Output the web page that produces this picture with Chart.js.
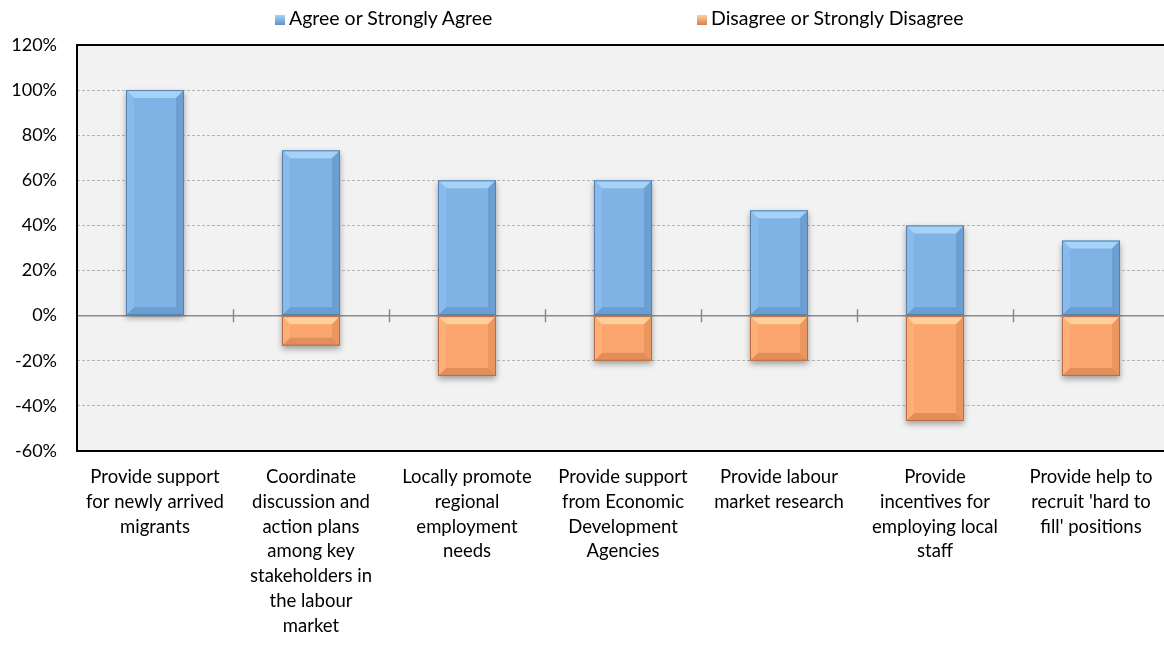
<!DOCTYPE html>
<html>
<head>
<meta charset="utf-8">
<script src="https://cdn.jsdelivr.net/npm/chart.js@4"></script>
<style>
  html, body { margin: 0; padding: 0; background: #fff; overflow: hidden; }
  #wrap { position: relative; width: 1170px; height: 645px; }
  .leg { position: absolute; top: 6px; font: 19.5px Lato, sans-serif; color: #000; white-space: nowrap; }
  .sw { display: inline-block; width: 10px; height: 10px; margin-right: 4px; vertical-align: 0px; }
</style>
</head>
<body>
<div id="wrap">
  <canvas id="chart" width="1170" height="645"></canvas>
  <div class="leg" style="left:275px"><span class="sw" style="background:linear-gradient(#a9d3f7,#5f93c9)"></span>Agree or Strongly Agree</div>
  <div class="leg" style="left:697px"><span class="sw" style="background:linear-gradient(#fdd09c,#d9804b)"></span>Disagree or Strongly Disagree</div>
</div>
<script>
const categories = [
    ["Provide support", "for newly arrived", "migrants"],
    ["Coordinate", "discussion and", "action plans", "among key", "stakeholders in", "the labour", "market"],
    ["Locally promote", "regional", "employment", "needs"],
    ["Provide support", "from Economic", "Development", "Agencies"],
    ["Provide labour", "market research"],
    ["Provide", "incentives for", "employing local", "staff"],
    ["Provide help to", "recruit 'hard to", "fill' positions"]
];
const agree = [100, 73.3, 60, 60, 46.7, 40, 33.3];
const disagree = [0, -13.3, -26.7, -20, -20, -46.7, -26.7];
const yMin = -60, yMax = 120, yStep = 20;

const BLUE = "#7fb3e6", ORANGE = "#fca56e";
const bevelColors = {
    blue: { top: "#a6d2f7", bottom: "#6a9dd2", left: "#88bbec", right: "#6e9fd3", line: "#557fae" },
    orange: { top: "#fecf9a", bottom: "#e18e5a", left: "#fdaf79", right: "#ea965f", line: "#b86c3f" }
};

// plot background, border and the crossing ticks on the zero line
const frame = {
    id: "frame",
    beforeDraw(chart) {
        const { ctx, chartArea: a } = chart;
        ctx.save();
        ctx.fillStyle = "#f2f2f2";
        ctx.fillRect(a.left, a.top, a.right - a.left, a.bottom - a.top);
        ctx.restore();
    },
    beforeDatasetsDraw(chart) {
        const { ctx, chartArea: a, scales } = chart;
        const y0 = scales.y.getPixelForValue(0);
        ctx.save();
        ctx.strokeStyle = "#8c8c8c";
        ctx.lineWidth = 1.5;
        ctx.beginPath();
        ctx.moveTo(a.left, y0); ctx.lineTo(a.right, y0);
        for (let i = 1; i < categories.length; i++) {
            const x = Math.round((scales.x.getPixelForValue(i - 1) + scales.x.getPixelForValue(i)) / 2) + 0.5;
            ctx.moveTo(x, y0 - 6.5); ctx.lineTo(x, y0 + 6.5);
        }
        ctx.stroke();
        ctx.restore();
        // soft shadow for the bars
        ctx.save();
        ctx.shadowColor = "rgba(0,0,0,0.35)";
        ctx.shadowBlur = 6;
        ctx.shadowOffsetY = 3;
    },
    afterDatasetsDraw(chart) {
        const { ctx, chartArea: a } = chart;
        ctx.restore();
        chart.data.datasets.forEach((ds, di) => {
            const c = di === 0 ? bevelColors.blue : bevelColors.orange;
            chart.getDatasetMeta(di).data.forEach(bar => {
                const l = bar.x - bar.width / 2, r = bar.x + bar.width / 2;
                const t = Math.min(bar.y, bar.base), b = Math.max(bar.y, bar.base);
                if (b - t < 1) return;
                const d = Math.min(8, (b - t) / 2);
                const poly = (pts, col) => {
                    ctx.beginPath();
                    ctx.moveTo(pts[0][0], pts[0][1]);
                    pts.slice(1).forEach(p => ctx.lineTo(p[0], p[1]));
                    ctx.closePath();
                    ctx.fillStyle = col;
                    ctx.fill();
                };
                ctx.save();
                poly([[l, t], [r, t], [r - d, t + d], [l + d, t + d]], c.top);
                poly([[l, b], [r, b], [r - d, b - d], [l + d, b - d]], c.bottom);
                poly([[l, t], [l + d, t + d], [l + d, b - d], [l, b]], c.left);
                poly([[r, t], [r - d, t + d], [r - d, b - d], [r, b]], c.right);
                ctx.strokeStyle = c.line;
                ctx.lineWidth = 1;
                ctx.strokeRect(l + 0.5, t + 0.5, r - l - 1, b - t - 1);
                ctx.restore();
            });
        });
        // black frame
        ctx.save();
        ctx.strokeStyle = "#000";
        ctx.lineWidth = 2;
        ctx.strokeRect(a.left, a.top, a.right - a.left, a.bottom - a.top);
        ctx.restore();
    }
};

new Chart(document.getElementById("chart").getContext("2d"), {
    type: "bar",
    data: {
        labels: categories,
        datasets: [
            { label: "Agree or Strongly Agree", data: agree, backgroundColor: BLUE },
            { label: "Disagree or Strongly Disagree", data: disagree, backgroundColor: ORANGE }
        ]
    },
    options: {
        responsive: false,
        animation: false,
        layout: { padding: { top: 45, right: 1, left: 0, bottom: 0 } },
        plugins: { legend: { display: false }, tooltip: { enabled: false } },
        datasets: { bar: { categoryPercentage: 1, barPercentage: 0.372 } },
        scales: {
            x: {
                stacked: true,
                grid: { display: false, drawTicks: false },
                border: { display: false },
                ticks: { color: "#000", font: { family: "Lato", size: 18.5, lineHeight: 1.335 }, padding: 14, maxRotation: 0, autoSkip: false },
                afterFit(s) { s.height = 194; }
            },
            y: {
                stacked: true,
                min: yMin, max: yMax,
                ticks: { stepSize: yStep, color: "#000", font: { family: "Lato", size: 18 }, padding: 20, callback: v => v + "%" },
                grid: {
                    drawTicks: false,
                    color: ctx => ctx.tick && ctx.tick.value === 0 ? "rgba(0,0,0,0)" : "#b4b4b4"
                },
                border: { display: false, dash: [3, 2] },
                afterFit(s) { s.width = 77; }
            }
        }
    },
    plugins: [frame]
});
</script>
</body>
</html>
